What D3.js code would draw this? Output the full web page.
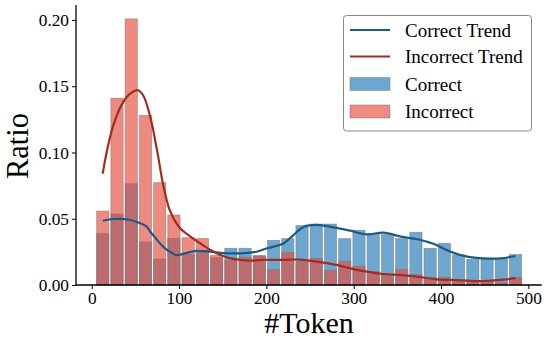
<!DOCTYPE html>
<html><head><meta charset="utf-8">
<script src="https://cdn.jsdelivr.net/npm/d3@7"></script>
<style>
body{margin:0;background:#fff;}
svg text{font-family:"Liberation Serif","Times New Roman",serif !important;fill:#000;}
</style></head>
<body><svg id="c" width="549" height="345"></svg>
<script>
// bin lower edges (tokens); bins are 16.3 tokens wide
const binStarts = [4.5,20.8,37.1,53.4,69.7,86.0,102.3,118.6,134.9,151.2,167.5,183.8,200.1,216.4,232.7,249.0,265.3,281.6,297.9,314.2,330.5,346.8,363.1,379.4,395.7,412.0,428.3,444.6,460.9,477.2];
const binWidth = 16.3;
const correctRatio = [0.0387,0.0536,0.0765,0.0325,0.0196,0.0352,0.0232,0.0259,0.0206,0.0277,0.0277,0.0220,0.0337,0.0350,0.0448,0.0460,0.0460,0.0350,0.0413,0.0390,0.0380,0.0350,0.0398,0.0277,0.0315,0.0228,0.0194,0.0196,0.0196,0.0230];
const incorrectRatio = [0.0558,0.1410,0.2008,0.1280,0.0772,0.0528,0.0357,0.0350,0.0224,0.0187,0.0210,0.0221,0.0118,0.0247,0.0176,0.0201,0.0111,0.0179,0.0141,0.0101,0.0075,0.0118,0.0078,0.0058,0.0058,0.0040,0.0027,0.0030,0.0018,0.0058];
const correctTrendX = [12.6,25,40,55,63,67,75,78,86,90,97,107,120,136,151,170,182,189,201,210,220,231,243,258,277,296,315,334,354,373,392,411,430,449,468,485.3];
const correctTrendY = [0.0485,0.0498,0.0496,0.0468,0.0440,0.0402,0.0340,0.0315,0.0265,0.0250,0.0226,0.0239,0.0257,0.0251,0.0240,0.0239,0.0245,0.0251,0.0277,0.0292,0.0315,0.0377,0.0440,0.0453,0.0435,0.0410,0.0382,0.0395,0.0365,0.0345,0.0309,0.0251,0.0214,0.0201,0.0201,0.0219];
const incorrectTrendX = [12.6,18,25,36,45,53,59,67,75,82,89,94,101,113,124,136,147,159,170,181,197,220,239,258,277,296,315,334,354,373,392,411,430,449,468,485.3];
const incorrectTrendY = [0.084,0.103,0.121,0.138,0.145,0.147,0.143,0.127,0.101,0.075,0.057,0.050,0.043,0.0365,0.0315,0.0264,0.0228,0.0201,0.0189,0.0184,0.0189,0.0189,0.0192,0.0176,0.0156,0.0126,0.0101,0.0083,0.0075,0.0063,0.0045,0.0038,0.0033,0.0030,0.0038,0.0052];
const xTicks = [0,100,200,300,400,500];
const yTicks = [0,0.05,0.10,0.15,0.20];
const legendLabels = ["Correct Trend","Incorrect Trend","Correct","Incorrect"];

const svg = d3.select("#c");
const x = d3.scaleLinear().domain([-18, 515.3]).range([76, 541.7]);
const y = d3.scaleLinear().domain([0, 0.2113]).range([285, 5]);

const blueFill = "#1f77b4", redFill = "#e74c3c";
const blueLine = "#1d5a83", redLine = "#a02c22";

function drawBars(vals, color){
  svg.append("g").selectAll("rect").data(vals).join("rect")
    .attr("x", (d,i)=>x(binStarts[i])+1)
    .attr("width", (d,i)=>x(binStarts[i]+binWidth)-x(binStarts[i])-2)
    .attr("y", d=>y(d))
    .attr("height", d=>y(0)-y(d))
    .attr("fill", color).attr("fill-opacity", 0.65)
    .attr("stroke", "#777").attr("stroke-opacity",0.6).attr("stroke-width", 0.8);
}
drawBars(correctRatio, blueFill);
drawBars(incorrectRatio, redFill);

const line = d3.line().x(d=>x(d[0])).y(d=>y(d[1])).curve(d3.curveCatmullRom.alpha(0.5));
svg.append("path").datum(correctTrendX.map((v,i)=>[v,correctTrendY[i]]))
  .attr("d", line).attr("fill","none").attr("stroke", blueLine).attr("stroke-width", 2.2);
svg.append("path").datum(incorrectTrendX.map((v,i)=>[v,incorrectTrendY[i]]))
  .attr("d", line).attr("fill","none").attr("stroke", redLine).attr("stroke-width", 2.2);

// axes
const xAxis = svg.append("g").attr("transform","translate(0,285)")
  .call(d3.axisBottom(x).tickValues(xTicks).tickFormat(d3.format("d")).tickSizeOuter(0).tickSize(4).tickPadding(3));
const yAxis = svg.append("g").attr("transform","translate(76,0)")
  .call(d3.axisLeft(y).tickValues(yTicks).tickFormat(d3.format(".2f")).tickSizeOuter(0).tickSize(4).tickPadding(3));
[xAxis,yAxis].forEach(a=>{
  a.attr("font-family",'"Liberation Serif",serif').attr("font-size",17.3);
  a.selectAll("text").attr("fill","#000");
  a.select(".domain").attr("stroke","#000").attr("stroke-width",1.3);
  a.selectAll(".tick line").attr("stroke","#000").attr("stroke-width",1);
});
xAxis.select(".domain").attr("d","M76,0H541.7");
yAxis.select(".domain").attr("d","M0,5V285");

svg.append("text").attr("x",309).attr("y",333).attr("text-anchor","middle")
  .style("font-size","30px").text("#Token");
svg.append("text").attr("transform","translate(28,146) rotate(-90)").attr("text-anchor","middle")
  .style("font-size","30.5px").text("Ratio");

// legend
const lg = svg.append("g");
lg.append("rect").attr("x",343.5).attr("y",15.5).attr("width",188).attr("height",115.5)
  .attr("rx",3).attr("fill","#fff").attr("fill-opacity",0.8).attr("stroke","#888").attr("stroke-width",1);
const rowsY = [30,56.5,84,111.5];
lg.append("line").attr("x1",350).attr("x2",390).attr("y1",rowsY[0]).attr("y2",rowsY[0]).attr("stroke",blueLine).attr("stroke-width",2.2);
lg.append("line").attr("x1",350).attr("x2",390).attr("y1",rowsY[1]).attr("y2",rowsY[1]).attr("stroke",redLine).attr("stroke-width",2.2);
lg.append("rect").attr("x",350).attr("y",rowsY[2]-6.5).attr("width",40).attr("height",13)
  .attr("fill",blueFill).attr("fill-opacity",0.65).attr("stroke","#777").attr("stroke-opacity",0.6).attr("stroke-width",0.8);
lg.append("rect").attr("x",350).attr("y",rowsY[3]-6.5).attr("width",40).attr("height",13)
  .attr("fill",redFill).attr("fill-opacity",0.65).attr("stroke","#777").attr("stroke-opacity",0.6).attr("stroke-width",0.8);
legendLabels.forEach((t,i)=>{
  lg.append("text").attr("x",405).attr("y",rowsY[i]).attr("dy","0.35em").style("font-size","19px").text(t);
});
</script></body></html>
